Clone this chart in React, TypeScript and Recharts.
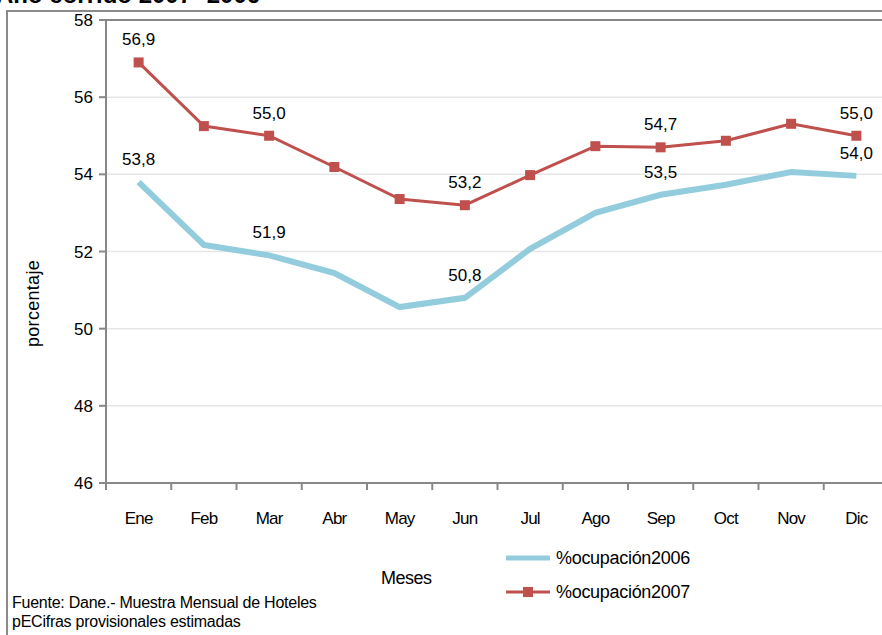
import React from "react";
import {
  LineChart,
  Line,
  XAxis,
  YAxis,
  CartesianGrid,
  LabelList,
  ReferenceLine,
} from "recharts";

const months = ["Ene", "Feb", "Mar", "Abr", "May", "Jun", "Jul", "Ago", "Sep", "Oct", "Nov", "Dic"];
const ocupacion2006 = [53.8, 52.17, 51.9, 51.44, 50.56, 50.8, 52.07, 53.0, 53.47, 53.73, 54.06, 53.96];
const ocupacion2007 = [56.9, 55.25, 55.0, 54.19, 53.36, 53.2, 53.98, 54.73, 54.7, 54.87, 55.31, 55.0];
const yTicks = [46, 48, 50, 52, 54, 56, 58];
const labeledMonths = [0, 2, 5, 8, 11];

const data = months.map((m, i) => ({
  mes: m,
  "%ocupación2006": ocupacion2006[i],
  "%ocupación2007": ocupacion2007[i],
}));

const FONT = "'Liberation Sans', Arial, sans-serif";
const CHART_W = 900;
const PLOT_LEFT = 106;
const PLOT_RIGHT = 889;
const PLOT_TOP = 20;
const PLOT_BOTTOM = 483;
const X_AXIS_H = 40;
const STEP = (PLOT_RIGHT - PLOT_LEFT) / months.length;

const fmt = (v: number) => v.toFixed(1).replace(".", ",");

function PointLabel(props: any) {
  const { x, y, value, index } = props;
  if (!labeledMonths.includes(index)) return null;
  return (
    <text x={x} y={y - 17} textAnchor="middle" fontSize={17} fill="#000" fontFamily={FONT}>
      {fmt(Number(value))}
    </text>
  );
}

function MonthTick(props: any) {
  const { x, payload } = props;
  const left = x - STEP / 2;
  return (
    <g>
      <line x1={left} y1={PLOT_BOTTOM} x2={left} y2={PLOT_BOTTOM + 7} stroke="#888" strokeWidth={2} />
      <text x={x} y={PLOT_BOTTOM + 41} textAnchor="middle" fontSize={17} fill="#000" fontFamily={FONT} letterSpacing={-0.8}>
        {payload.value}
      </text>
    </g>
  );
}

function YLabel(props: any) {
  const { viewBox } = props;
  const cx = 33;
  const cy = viewBox.y + viewBox.height / 2 + 52;
  return (
    <text
      x={cx}
      y={cy}
      transform={`rotate(-90 ${cx} ${cy})`}
      textAnchor="middle"
      dominantBaseline="central"
      fontSize={18}
      letterSpacing={0.3}
      fill="#000"
      fontFamily={FONT}
    >
      porcentaje
    </text>
  );
}

function LegendBox() {
  const rows = [
    { name: "%ocupación2006", color: "#93CDDD", width: 5, marker: false },
    { name: "%ocupación2007", color: "#C0504D", width: 3, marker: true },
  ];
  return (
    <div style={{ fontFamily: FONT, fontSize: 18 }}>
      {rows.map((r) => (
        <div key={r.name} style={{ display: "flex", alignItems: "center", height: 34 }}>
          <svg width={46} height={14}>
            <line x1={0} y1={7} x2={44} y2={7} stroke={r.color} strokeWidth={r.width} />
            {r.marker && <rect x={17} y={2} width={10} height={10} fill={r.color} />}
          </svg>
          <span style={{ marginLeft: 4, letterSpacing: -0.3 }}>{r.name}</span>
        </div>
      ))}
    </div>
  );
}

export default function App() {
  return (
    <div
      style={{
        position: "fixed",
        left: 0,
        top: 0,
        width: 882,
        height: 635,
        overflow: "hidden",
        background: "#fff",
        fontFamily: FONT,
      }}
    >
      <div
        style={{
          position: "absolute",
          left: -4,
          top: -19,
          fontSize: 24,
          fontWeight: "bold",
          whiteSpace: "nowrap",
        }}
      >
        Año corrido 2007- 2006
      </div>
      <div
        style={{
          position: "absolute",
          left: 6,
          top: 10,
          width: 1000,
          height: 700,
          border: "2px solid #8a8a8a",
          boxSizing: "border-box",
          background: "#fff",
        }}
      />
      <div style={{ position: "absolute", left: 0, top: 0 }}>
        <LineChart
          width={CHART_W}
          height={635}
          data={data}
          margin={{ top: PLOT_TOP, right: CHART_W - PLOT_RIGHT, left: 0, bottom: 635 - PLOT_BOTTOM - X_AXIS_H }}
        >
          <CartesianGrid vertical={false} stroke="#e6e6e6" strokeWidth={1.5} />
          <XAxis
            dataKey="mes"
            height={X_AXIS_H}
            stroke="#888"
            strokeWidth={2}
            tickLine={false}
            tick={<MonthTick />}
            interval={0}
            padding={{ left: STEP / 2, right: STEP / 2 }}
          />
          <YAxis
            width={PLOT_LEFT}
            domain={[46, 58]}
            ticks={yTicks}
            stroke="#888"
            strokeWidth={2}
            tickSize={7}
            tick={{ fill: "#000", fontSize: 17, fontFamily: FONT }}
            tickMargin={6}
            label={<YLabel />}
          />
          <ReferenceLine y={58} stroke="#888" strokeWidth={2} />
          <Line
            type="linear"
            dataKey="%ocupación2006"
            stroke="#93CDDD"
            strokeWidth={6}
            dot={false}
            isAnimationActive={false}
          >
            <LabelList content={<PointLabel />} />
          </Line>
          <Line
            type="linear"
            dataKey="%ocupación2007"
            stroke="#C0504D"
            strokeWidth={3}
            dot={(p: any) => (
              <rect key={p.index} x={p.cx - 5} y={p.cy - 5} width={10} height={10} fill="#C0504D" />
            )}
            isAnimationActive={false}
          >
            <LabelList content={<PointLabel />} />
          </Line>
        </LineChart>
      </div>
      <div style={{ position: "absolute", left: 506, top: 541 }}>
        <LegendBox />
      </div>
      <div style={{ position: "absolute", left: 381, top: 568, fontSize: 18, letterSpacing: -0.5 }}>Meses</div>
      <div style={{ position: "absolute", left: 12, top: 593, fontSize: 16, lineHeight: "19px", letterSpacing: -0.25 }}>
        <div>Fuente: Dane.- Muestra Mensual de Hoteles</div>
        <div>pECifras provisionales estimadas</div>
      </div>
    </div>
  );
}
